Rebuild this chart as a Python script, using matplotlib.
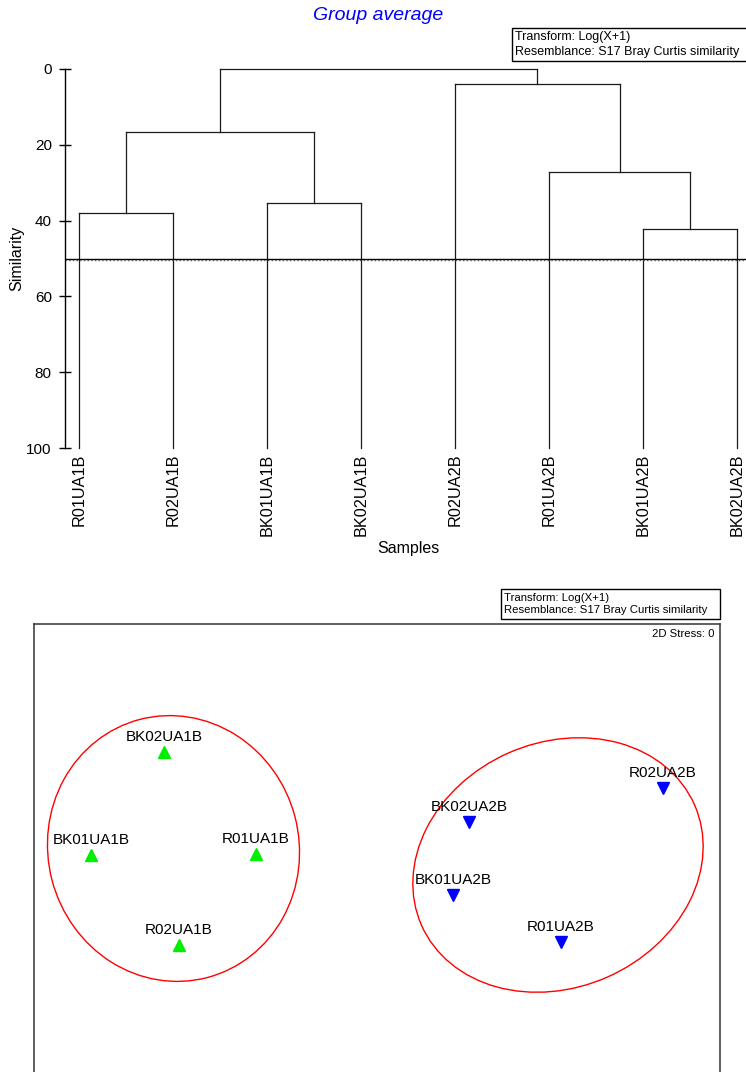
import numpy as np
import matplotlib
matplotlib.use('Agg')
import matplotlib.pyplot as plt
from matplotlib.patches import Ellipse, Rectangle

plt.rcParams['font.family'] = ['Liberation Sans', 'DejaVu Sans']

# --- dendrogram data (group average on Bray Curtis similarity)
leaves = ['R01UA1B', 'R02UA1B', 'BK01UA1B', 'BK02UA1B',
          'R02UA2B', 'R01UA2B', 'BK01UA2B', 'BK02UA2B']
# (child a, child b, similarity) ; ids 0-7 are leaves, new clusters get 8, 9, ...
merges = [(0, 1, 38.0), (2, 3, 35.4), (8, 9, 16.6),
          (6, 7, 42.2), (5, 11, 27.2), (4, 12, 4.0), (10, 13, 0.0)]
cut_level = 50
sim_ticks = [0, 20, 40, 60, 80, 100]

# --- MDS data
samples = ['BK02UA1B', 'BK01UA1B', 'R01UA1B', 'R02UA1B',
           'R02UA2B', 'BK02UA2B', 'BK01UA2B', 'R01UA2B']
mds1 = [-2.14, -2.87, -1.22, -1.99, 2.85, 0.91, 0.75, 1.83]
mds2 = [1.08, 0.05, 0.06, -0.85, 0.72, 0.38, -0.35, -0.82]
groups = ['UA1B'] * 4 + ['UA2B'] * 4
stress = 0

info = 'Transform: Log(X+1)\nResemblance: S17 Bray Curtis similarity'

W, H = 746, 1072
fig = plt.figure(figsize=(W / 100, H / 100), dpi=100)


def fax(l, t, r, b):   # axes from pixel box
    return fig.add_axes([l / W, 1 - b / H, (r - l) / W, (b - t) / H])


def info_box(l, t, r, b, fs):
    fig.patches.append(Rectangle((l / W, 1 - b / H), (r - l) / W, (b - t) / H,
                                 transform=fig.transFigure, fill=False, lw=1.0,
                                 ec='k', clip_on=False))
    fig.text((l + 3) / W, 1 - (t + b) / 2 / H, info, fontsize=fs, va='center',
             ha='left', linespacing=1.3)


# ---------------- dendrogram
ax = fax(65, 69, 746, 448)
pos = {i: float(i) for i in range(len(leaves))}
hgt = {i: 100.0 for i in range(len(leaves))}
nid = len(leaves)
lc = '#1a1a1a'
for a, b, h in merges:
    for c in (a, b):
        ax.plot([pos[c], pos[c]], [hgt[c], h], color=lc, lw=0.9, clip_on=False)
    ax.plot([pos[a], pos[b]], [h, h], color=lc, lw=0.9, clip_on=False)
    pos[nid] = (pos[a] + pos[b]) / 2
    hgt[nid] = h
    nid += 1

ax.axhline(cut_level, color='k', lw=1.0)
ax.axhline(cut_level + 0.35, color='#555555', lw=1.0, ls=':')

ax.set_xlim(-14 / 94, 7 + 9 / 94)
ax.set_ylim(100, 0)
for s in ['top', 'right', 'bottom']:
    ax.spines[s].set_visible(False)
ax.spines['left'].set_linewidth(1.0)
ax.set_yticks(sim_ticks)
ax.set_yticklabels([str(t) for t in sim_ticks])
ax.tick_params(axis='y', direction='inout', length=9, width=1.0, labelsize=11, pad=5)
ax.set_xticks(range(len(leaves)))
ax.set_xticklabels(leaves, rotation=90, fontsize=11.7)
ax.tick_params(axis='x', length=0, pad=4)

fig.text(17 / W, 1 - 258 / H, 'Similarity', rotation=90, fontsize=11.5,
         ha='center', va='center')
fig.text(408 / W, 1 - 548 / H, 'Samples', fontsize=11.5, ha='center', va='center')
fig.text(378 / W, 1 - 16 / H, 'Group average', fontsize=14, style='italic',
         color='#0000ff', ha='center', va='center')
info_box(512, 28, 748, 61, 9)

# ---------------- MDS
bx = fax(34, 624, 720, 1100)
bx.set_xlim(-3.44, 3.42)
bx.set_ylim(-2.40, 2.36)
bx.set_aspect('equal')
bx.set_xticks([])
bx.set_yticks([])
for s in bx.spines.values():
    s.set_linewidth(1.1)
    s.set_color('#333333')

styles = {'UA1B': ('^', '#00ee00'), 'UA2B': ('v', '#0000ff')}
x = np.array(mds1)
y = np.array(mds2)
g = np.array(groups)
for grp, (mk, col) in styles.items():
    m = g == grp
    bx.plot(x[m], y[m], ls='none', marker=mk, ms=8, color=col, mec=col)
    # smooth outline round the group: covariance ellipse widened by a kernel,
    # centred on the middle of the group's extent
    pts = np.vstack([x[m], y[m]])
    cov = np.cov(pts, bias=True) + 0.76 * np.eye(2)
    vals, vecs = np.linalg.eigh(cov)
    r = 1.2
    ang = np.degrees(np.arctan2(vecs[1, 1], vecs[0, 1]))
    ctr = (pts.min(axis=1) + pts.max(axis=1)) / 2
    bx.add_patch(Ellipse(ctr, 2 * r * np.sqrt(vals[1]),
                         2 * r * np.sqrt(vals[0]), angle=ang, fill=False,
                         ec='#ff0000', lw=1.0))

for name, xi, yi in zip(samples, mds1, mds2):
    bx.annotate(name, (xi, yi), xytext=(0, 5.5), textcoords='offset points',
                ha='center', va='bottom', fontsize=11)

fig.text(715 / W, 1 - 634 / H, '2D Stress: %g' % stress, fontsize=8.2,
         ha='right', va='center')
info_box(501, 589, 720, 619, 8.2)

fig.savefig('out.png', dpi=100)
